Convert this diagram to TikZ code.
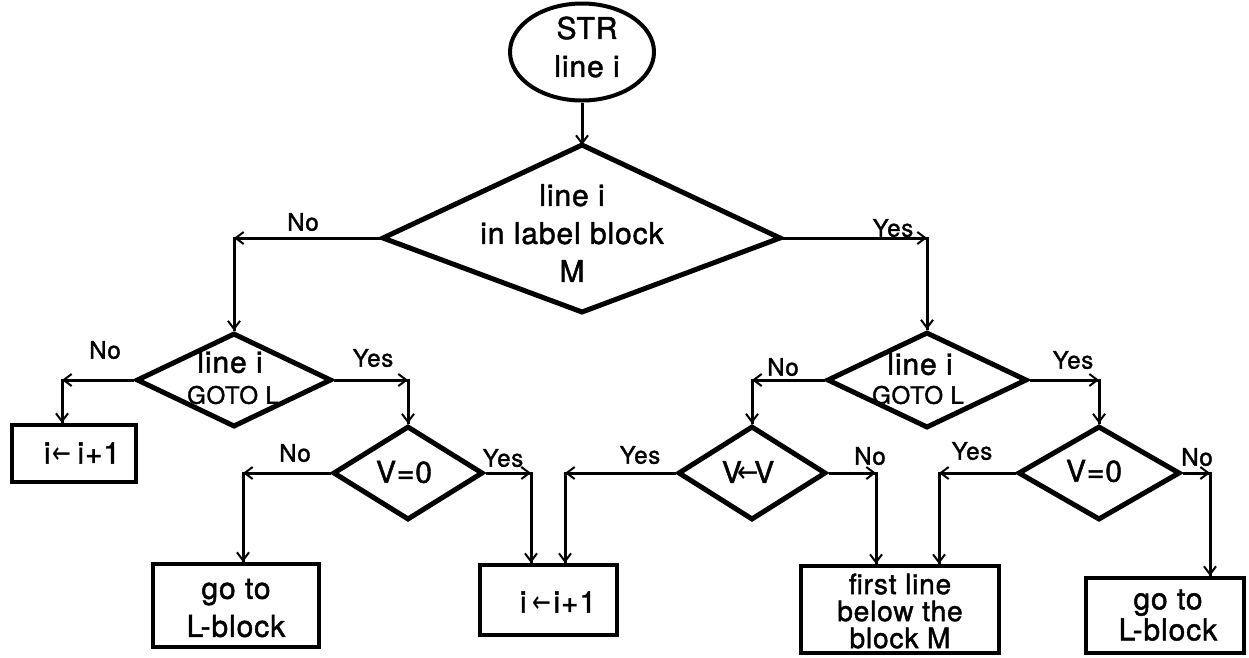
\documentclass[tikz,border=0pt]{standalone}
\usepackage{fontspec}
\usepackage{graphicx}
\setmainfont{TeX Gyre Heros}[LetterSpace=3, RawFeature={embolden=1.5}]
\newfontfamily\arrfont{DejaVu Sans}
\usetikzlibrary{shapes.geometric,arrows.meta}
\newcommand{\larr}[1]{\scalebox{#1}[1]{\arrfont ←}}
\begin{document}
\begin{tikzpicture}[x=1pt,y=-1pt,
  outl/.style={draw, line width=5pt, line join=miter},
  dia/.style={draw, diamond, line width=5pt, inner sep=0pt, line join=miter},
  box/.style={draw, rectangle, line width=4pt, inner sep=0pt},
  ell/.style={draw, ellipse, line width=4pt, inner sep=0pt},
  txt/.style={inner sep=0pt, align=center, font=\fontsize{30}{38}\selectfont},
  small/.style={inner sep=0pt, font=\fontsize{24}{26}\selectfont},
  lab/.style={inner sep=0pt, font=\fontsize{24}{26}\selectfont},
  wire/.style={line width=3pt, line join=miter},
  conn/.style={line width=3pt, -{Straight Barb[length=8pt,width=12pt,line width=2pt]}}
]
\fill[white] (0,0) rectangle (1249,657);
\useasboundingbox (0,0) rectangle (1249,657);

% start ellipse
\node[ell, minimum width=144pt, minimum height=97pt] (E) at (582,52) {};
\node[txt] (Et) at (587,47) {STR\\line i};

% big decision
\coordinate (Dt) at (582,145);
\coordinate (Dr) at (780,238);
\coordinate (Db) at (582,312);
\coordinate (Dl) at (383,238);
\draw[outl] (Dt) -- (Dr) -- (Db) -- (Dl) -- cycle;
\node[txt] (Dtext) at (572,233) {line i\\in label block\\M};
\draw[conn] (E.south) -- (Dt);

% GOTO diamonds
\node[dia, minimum width=195pt, minimum height=94pt] (G1) at (234,380) {};
\node[txt] (G1a) at (230,362) {line i};
\node[small] (G1b) at (233,395) {GOTO L};
\node[dia, minimum width=200pt, minimum height=96pt] (G2) at (927,380) {};
\node[txt] (G2a) at (920,364) {line i};
\node[small] (G2b) at (918,395) {GOTO L};

% second level diamonds
\node[dia, minimum width=150pt, minimum height=94pt] (V1) at (408,473) {};
\node[txt] (V1t) at (404,472) {V=0};
\node[dia, minimum width=148pt, minimum height=94pt] (V2) at (752,473) {};
\node[txt] (V2t) at (748,472) {V\kern-4pt\larr{0.85}\kern-5pt V};
\node[dia, minimum width=162pt, minimum height=94pt] (V3) at (1099,473) {};
\node[txt] (V3t) at (1094,471) {V=0};

% boxes
\node[box, minimum width=124pt, minimum height=57pt] (B1) at (74,453.5) {};
\node[txt] (B1t) at (82,453) {i\kern2pt\larr{0.75}\kern6pt i+1};
\node[box, minimum width=166pt, minimum height=83pt] (B2) at (236,605.5) {};
\node[txt] (B2t) at (236,608) {go to\\L-block};
\node[box, minimum width=137pt, minimum height=70pt] (B3) at (548.5,600) {};
\node[txt] (B3t) at (558,602) {i\kern6pt\larr{0.75}\kern2pt i+1};
\node[box, minimum width=198pt, minimum height=87pt] (B4) at (900,609.5) {};
\node[txt, font=\fontsize{28}{27}\selectfont] (B4t) at (900,611) {first line\\below the\\block M};
\node[box, minimum width=158pt, minimum height=75pt] (B5) at (1165,615.5) {};
\node[txt, font=\fontsize{30}{31}\selectfont] (B5t) at (1168,615) {go to\\L-block};

% corner coordinates
\coordinate (c1) at (234,238);
\coordinate (c2) at (927,238);
\coordinate (c3) at (62,380);
\coordinate (c4) at (408,380);
\coordinate (c5) at (243,473);
\coordinate (c6) at (531,473);
\coordinate (c7) at (752,380);
\coordinate (c8) at (565,473);
\coordinate (c9) at (876,473);
\coordinate (c10) at (1099,380);
\coordinate (c11) at (939,473);
\coordinate (c12) at (1210,473);

% connectors
\draw[wire] (Dl) -- (c1) -- (G1.north);
\draw[conn] (Dl) -- (c1); \draw[conn] (c1) -- (G1.north);
\draw[wire] (Dr) -- (c2) -- (G2.north);
\draw[conn] (Dr) -- (c2); \draw[conn] (c2) -- (G2.north);

\draw[wire] (G1.west) -- (c3) -- (c3 |- B1.north);
\draw[conn] (G1.west) -- (c3); \draw[conn] (c3) -- (c3 |- B1.north);
\draw[wire] (G1.east) -- (c4) -- (V1.north);
\draw[conn] (G1.east) -- (c4); \draw[conn] (c4) -- (V1.north);

\draw[wire] (V1.west) -- (c5) -- (c5 |- B2.north);
\draw[conn] (V1.west) -- (c5); \draw[conn] (c5) -- (c5 |- B2.north);
\draw[wire] (V1.east) -- (c6) -- (c6 |- B3.north);
\draw[conn] (V1.east) -- (c6); \draw[conn] (c6) -- (c6 |- B3.north);

\draw[wire] (G2.west) -- (c7) -- (V2.north);
\draw[conn] (G2.west) -- (c7); \draw[conn] (c7) -- (V2.north);
\draw[wire] (G2.east) -- (c10) -- (V3.north);
\draw[conn] (G2.east) -- (c10); \draw[conn] (c10) -- (V3.north);

\draw[wire] (V2.west) -- (c8) -- (c8 |- B3.north);
\draw[conn] (V2.west) -- (c8); \draw[conn] (c8) -- (c8 |- B3.north);
\draw[wire] (V2.east) -- (c9) -- (c9 |- B4.north);
\draw[conn] (V2.east) -- (c9); \draw[conn] (c9) -- (c9 |- B4.north);

\draw[wire] (V3.west) -- (c11) -- (c11 |- B4.north);
\draw[conn] (V3.west) -- (c11); \draw[conn] (c11) -- (c11 |- B4.north);
\draw[wire] (V3.east) -- (c12) -- (c12 |- B5.north);
\draw[conn] (V3.east) -- (c12); \draw[conn] (c12) -- (c12 |- B5.north);

% labels
\node[lab] (l1) at (303,222) {No};
\node[lab] (l2) at (893,228) {Yes};
\node[lab] (l3) at (105,350) {No};
\node[lab] (l4) at (373,358) {Yes};
\node[lab] (l5) at (295,453) {No};
\node[lab] (l6) at (503,458) {Yes};
\node[lab] (l7) at (783,367) {No};
\node[lab] (l8) at (1073,360) {Yes};
\node[lab] (l9) at (640,455) {Yes};
\node[lab] (l10) at (870,456) {No};
\node[lab] (l11) at (972,451) {Yes};
\node[lab] (l12) at (1197,457) {No};
\end{tikzpicture}
\end{document}
